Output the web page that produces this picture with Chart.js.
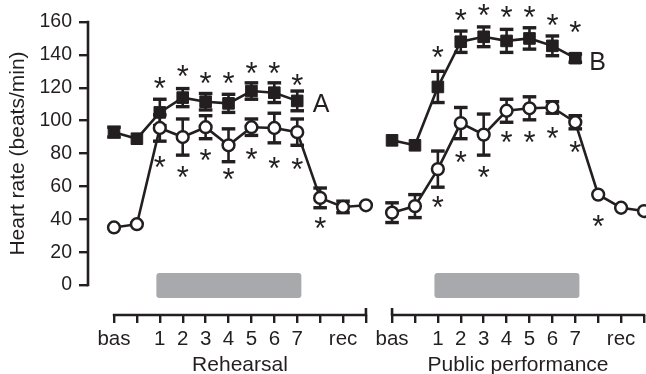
<!DOCTYPE html>
<html><head><meta charset="utf-8">
<script src="https://cdn.jsdelivr.net/npm/chart.js@4.4.1/dist/chart.umd.min.js"></script>
<style>html,body{margin:0;padding:0;background:#fff}#wrap{width:646px;height:374px}</style>
</head><body><div id="wrap"><canvas id="c" width="646" height="374"></canvas></div>
<script>
// ---------- data ----------
const tickLabels = ['bas', '', '1', '2', '3', '4', '5', '6', '7', '', 'rec', ''];
const panelTitles = ['Rehearsal', 'Public performance'];
const curveLabels = ['A', 'B'];
const yTitle = 'Heart rate (beats/min)';
const yTickValues = [0, 20, 40, 60, 80, 100, 120, 140, 160];

const rehearsalFilled      = [93, 89, 105, 114, 111.5, 110.5, 118, 117, 112, null, null, null];
const rehearsalFilledErr   = [3, 0, 8, 5.5, 5, 5.5, 5, 6, 6, 0, 0, 0];
const rehearsalOpen        = [35, 37, 95.5, 90, 96, 85, 96, 95.5, 93, 53, 47.5, 48.5];
const rehearsalOpenErr     = [0, 0, 8, 11, 7, 10, 5, 9, 8, 6, 3.5, 0];
const performanceFilled    = [88, 85, 120.5, 148, 151, 148.5, 150, 145.5, 138, null, null, null];
const performanceFilledErr = [0, 0, 9.5, 6.5, 6, 7, 6.5, 6, 2.5, 0, 0, 0];
const performanceOpen      = [44, 48, 70.5, 98.5, 91.5, 106, 107.5, 108, 99, 55, 47, 45];
const performanceOpenErr   = [6, 7, 11, 9.5, 12.5, 7, 7, 3.5, 4, 0, 0, 0];

// significance asterisks (y value of asterisk centre, per time point)
const rehearsalFilledStars   = [null, null, 123, 130, 126, 126, 132, 132, 124.5, null, null, null];
const rehearsalOpenStars     = [null, null, 75, 68.5, 79, 67.5, 79.5, 74, 73.5, 37.5, null, null];
const performanceFilledStars = [null, null, 141.5, 164, 167, 166, 166, 161, 157, null, null, null];
const performanceOpenStars   = [null, null, 50.5, 78, 68.5, 90, 90, 92.5, 84, 39, null, null];

// stimulus period (grey bar), in time-point index units and y units
const stimulusSpan = [1.85, 8.18];
const stimulusY = [7.3, -7.9];
// curve label anchors [index, y]
const curveLabelAt = [[9.05, 110.5], [9.0, 136]];

// ---------- layout helpers ----------
const panelOffset = [0, 12.14];
const INK = '#231f20';
const FONT = "'Liberation Sans', Arial, Helvetica, sans-serif";

function pts(vals, off) {
  const out = [];
  vals.forEach((v, i) => { if (v !== null) out.push({ x: off + i, y: v }); });
  return out;
}

const filledStyle = {
  borderColor: INK, backgroundColor: INK, borderWidth: 2.6,
  pointStyle: 'rect', pointRadius: 8.2, pointBorderWidth: 1,
  pointBackgroundColor: INK, pointBorderColor: INK, clip: false, tension: 0, order: 2
};
const openStyle = {
  borderColor: INK, backgroundColor: '#fff', borderWidth: 2.6,
  pointStyle: 'circle', pointRadius: 5.9, pointBorderWidth: 2.5,
  pointBackgroundColor: '#fff', pointBorderColor: INK, clip: false, tension: 0, order: 1
};

const series = [
  { vals: rehearsalFilled, err: rehearsalFilledErr, stars: rehearsalFilledStars, off: panelOffset[0], style: filledStyle },
  { vals: rehearsalOpen, err: rehearsalOpenErr, stars: rehearsalOpenStars, off: panelOffset[0], style: openStyle },
  { vals: performanceFilled, err: performanceFilledErr, stars: performanceFilledStars, off: panelOffset[1], style: filledStyle },
  { vals: performanceOpen, err: performanceOpenErr, stars: performanceOpenStars, off: panelOffset[1], style: openStyle }
];

function line(ctx, x0, y0, x1, y1) { ctx.beginPath(); ctx.moveTo(x0, y0); ctx.lineTo(x1, y1); ctx.stroke(); }

function centredText(ctx, txt, cx, cy) {
  ctx.textAlign = 'left'; ctx.textBaseline = 'alphabetic';
  const m = ctx.measureText(txt);
  const bx = cx - (m.actualBoundingBoxRight - m.actualBoundingBoxLeft) / 2;
  const by = cy + (m.actualBoundingBoxAscent - m.actualBoundingBoxDescent) / 2;
  ctx.fillText(txt, bx, by);
}

const extras = {
  id: 'extras',
  beforeDatasetsDraw(chart) {
    const { ctx, scales: { x, y } } = chart;
    ctx.save();
    ctx.fillStyle = '#a7a9ac';
    panelOffset.forEach(off => {
      const x0 = x.getPixelForValue(off + stimulusSpan[0]);
      const x1 = x.getPixelForValue(off + stimulusSpan[1]);
      const y0 = y.getPixelForValue(stimulusY[0]);
      const y1 = y.getPixelForValue(stimulusY[1]);
      ctx.beginPath(); ctx.roundRect(x0, y0, x1 - x0, y1 - y0, 3); ctx.fill();
    });
    ctx.strokeStyle = INK; ctx.lineCap = 'butt';
    series.forEach(s => {
      s.vals.forEach((v, i) => {
        const e = s.err[i];
        if (v === null || !e) return;
        const px = x.getPixelForValue(s.off + i);
        const pt = y.getPixelForValue(v + e), pb = y.getPixelForValue(v - e);
        ctx.lineWidth = 2.6; line(ctx, px, pt, px, pb);
        ctx.lineWidth = 3.4; line(ctx, px - 6.8, pt, px + 6.8, pt); line(ctx, px - 6.8, pb, px + 6.8, pb);
      });
    });
    ctx.restore();
  },
  afterDraw(chart) {
    const { ctx, chartArea, scales: { x, y } } = chart;
    ctx.save();
    ctx.strokeStyle = INK; ctx.fillStyle = INK; ctx.lineCap = 'butt';
    ctx.lineWidth = 2.6;
    const ax = chartArea.left;
    const yTop = y.getPixelForValue(yTickValues[yTickValues.length - 1]);
    const yBot = y.getPixelForValue(yTickValues[0]);
    line(ctx, ax, yTop - 1.2, ax, yBot + 1.2);
    const ay = chartArea.bottom;
    panelOffset.forEach((off, p) => {
      const x0 = x.getPixelForValue(off), x1 = x.getPixelForValue(off + tickLabels.length - 1);
      line(ctx, x0 - 1.2, ay, x1 + 1.2, ay);
      if (p === 0) line(ctx, x1, ay - 7, x1, ay);
      if (p === 1) line(ctx, x0, ay - 7, x0, ay);
    });
    ctx.font = `31px ${FONT}`;
    series.forEach(s => {
      s.stars.forEach((v, i) => {
        if (v === null) return;
        centredText(ctx, '*', x.getPixelForValue(s.off + i), y.getPixelForValue(v));
      });
    });
    ctx.font = `25px ${FONT}`;
    curveLabels.forEach((t, p) => {
      centredText(ctx, t, x.getPixelForValue(panelOffset[p] + curveLabelAt[p][0]), y.getPixelForValue(curveLabelAt[p][1]));
    });
    ctx.font = `21px ${FONT}`;
    ctx.textAlign = 'center'; ctx.textBaseline = 'alphabetic';
    panelTitles.forEach((t, p) => {
      const cx = x.getPixelForValue(panelOffset[p] + (tickLabels.length - 1) / 2);
      ctx.fillText(t, cx, 371);
    });
    ctx.restore();
    ctx.save();
    ctx.fillStyle = INK;
    ctx.font = `21px ${FONT}`;
    const my = (yTop + yBot) / 2;
    ctx.setTransform(0, -1, 1, 0, 18, my);
    ctx.textAlign = 'center'; ctx.textBaseline = 'middle';
    ctx.fillText(yTitle, 0, 0);
    ctx.restore();
  }
};

const xTickValues = [];
panelOffset.forEach(off => tickLabels.forEach((l, i) => xTickValues.push(off + i)));

Chart.defaults.font.family = FONT;
Chart.defaults.color = INK;

new Chart(document.getElementById('c'), {
  type: 'line',
  data: {
    datasets: series.map(s => Object.assign({ data: pts(s.vals, s.off) }, s.style))
  },
  options: {
    responsive: false, animation: false, devicePixelRatio: 1,
    layout: { autoPadding: false, padding: { top: 22, right: 2, left: 0, bottom: 0 } },
    plugins: { legend: { display: false }, tooltip: { enabled: false } },
    scales: {
      x: {
        type: 'linear', min: -1.135, max: panelOffset[1] + tickLabels.length - 1,
        afterBuildTicks: s => { s.ticks = xTickValues.map(v => ({ value: v })); },
        afterFit: s => { s.height = 59; s.paddingLeft = 0; s.paddingRight = 0; },
        border: { display: false },
        grid: { drawOnChartArea: false, drawTicks: true, tickLength: 8, lineWidth: 2.4, color: INK },
        ticks: {
          autoSkip: false, maxRotation: 0, padding: 4, color: INK, font: { size: 20.5 },
          callback: (v, i) => tickLabels[i % tickLabels.length]
        }
      },
      y: {
        type: 'linear', min: -18.25, max: 160,
        afterBuildTicks: s => { s.ticks = yTickValues.map(v => ({ value: v })); },
        afterFit: s => { s.width = 88; s.paddingTop = 0; s.paddingBottom = 0; },
        border: { display: false },
        grid: { drawOnChartArea: false, drawTicks: true, tickLength: 9, lineWidth: 2.4, color: INK },
        ticks: { padding: 7, color: INK, font: { size: 19.5 }, callback: v => String(v) }
      }
    }
  },
  plugins: [extras]
});
</script></body></html>
